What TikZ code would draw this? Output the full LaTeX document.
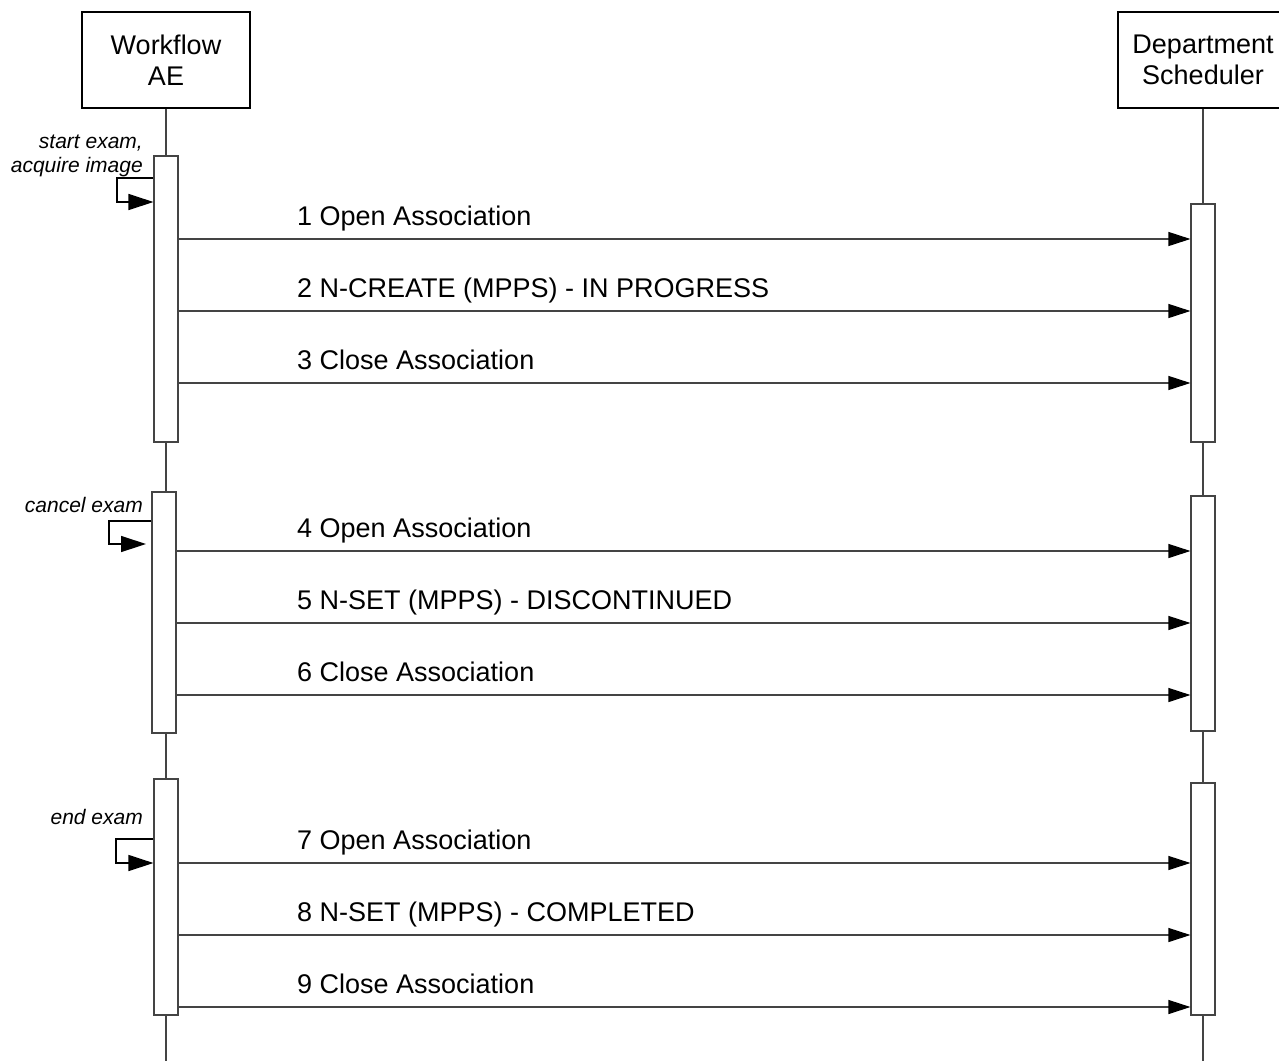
\documentclass[tikz,border=0pt]{standalone}
\usepackage{fontspec}
\setmainfont{Liberation Sans}
\usetikzlibrary{arrows.meta}
\definecolor{ln}{HTML}{444444}
\tikzset{
  head/.style={draw=black, line width=1.1pt, minimum width=168pt, minimum height=96pt, inner sep=0pt, align=center, font=\fontsize{27}{31}\selectfont},
  bar/.style={draw=ln, line width=1.1pt, fill=white, minimum width=24pt, inner sep=0pt},
  life/.style={draw=ln, line width=1.1pt},
  msg/.style={draw=ln, line width=1.1pt, -{Triangle[length=22pt,width=14pt,color=black]}},
  selfmsg/.style={draw=black, line width=1.4pt, -{Triangle[length=25pt,width=16pt]}},
  lbl/.style={anchor=base west, inner sep=0pt, font=\fontsize{27}{31}\selectfont},
  note/.style={anchor=base east, inner sep=0pt, align=right, font=\fontsize{21}{24}\selectfont\itshape}
}
\begin{document}
\begin{tikzpicture}[x=1pt,y=-1pt]
\path[use as bounding box] (0,0) rectangle (1279,1061);
\clip (0,0) rectangle (1279,1061);
% heads
\node[head] (wf) at (166,60) {Workflow\\AE};
\node[head, minimum width=170pt] (ds) at (1203,60) {Department\\Scheduler};
\coordinate (wfend) at (166,1061);
\coordinate (dsend) at (1203,1061);
\draw[life] (wf.south) -- (wfend);
\draw[life] (ds.south) -- (dsend);
% activation bars
\node[bar, minimum height=286pt] (a1) at (166,299) {};
\node[bar, minimum height=241pt] (a2) at (164,612.5) {};
\node[bar, minimum height=236pt] (a3) at (166,897) {};
\node[bar, minimum height=238pt] (s1) at (1203,323) {};
\node[bar, minimum height=235pt] (s2) at (1203,613.5) {};
\node[bar, minimum height=232pt] (s3) at (1203,899) {};
% self messages
\draw[selfmsg] (a1.west |- 0,178) -- (117,178) |- (a1.west |- 0,202);
\node[note] (n1) at (143,172) {start exam,\\acquire image};
\coordinate (c2) at (146,544);
\draw[selfmsg] (a2.west |- 0,521) -- (109,521) |- (c2);
\node[note] (n2) at (143,512) {cancel exam};
\draw[selfmsg] (a3.west |- 0,839) -- (116,839) |- (a3.west |- 0,863);
\node[note] (n3) at (143,824) {end exam};
% messages
\foreach \y/\f/\t/\txt in {
  239/a1/s1/{1 Open Association},
  311/a1/s1/{2 N-CREATE (MPPS) - IN PROGRESS},
  383/a1/s1/{3 Close Association},
  551/a2/s2/{4 Open Association},
  623/a2/s2/{5 N-SET (MPPS) - DISCONTINUED},
  695/a2/s2/{6 Close Association},
  863/a3/s3/{7 Open Association},
  935/a3/s3/{8 N-SET (MPPS) - COMPLETED},
  1007/a3/s3/{9 Close Association}}{
  \draw[msg] (\f.east |- 0,\y) -- (\t.west |- 0,\y);
  \node[lbl] at (297,\y-14) {\txt};
}
\end{tikzpicture}
\end{document}
